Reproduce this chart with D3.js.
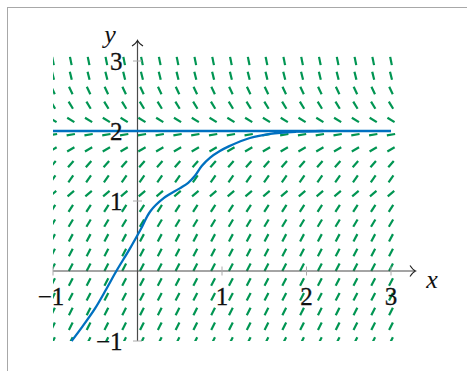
<!DOCTYPE html>
<html>
<head>
<meta charset="utf-8">
<script src="https://cdn.jsdelivr.net/npm/d3@7"></script>
<style>
  html, body { margin: 0; padding: 0; background: #fff; }
  svg { display: block; }
</style>
</head>
<body>
<svg id="chart" width="467" height="371"></svg>
<script>
// Direction field: 20 x 20 samples over [-1, 3] x [-1, 3]
const sampleCount = 20;
const fieldDomain = [-1, 3];
// slope dy/dx at each row of the field, from y = -1 (bottom) to y = 3 (top)
const rowSlopes = [2.4, 2.4, 2.4, 2.3, 2.3, 2.3, 2.3, 2.3, 2.0, 1.9,
                   1.0, 1.7, 1.4, 0.7, 0.2, -0.75, -2.0, -2.6, -5.0, -6.0];

// Equilibrium solution y = 2
const equilibriumY = 2;
const equilibriumX = [-1, 3];

// Solution curve through the field
const solX = [-0.78, -0.65, -0.5, -0.37, -0.25, -0.09, 0.04, 0.15, 0.31, 0.5, 0.6, 0.68, 0.76, 0.86, 0.97, 1.08, 1.33, 1.57, 1.88, 2.2];
const solY = [-1.0, -0.79, -0.53, -0.26, 0.0, 0.32, 0.6, 0.85, 1.04, 1.18, 1.26, 1.36, 1.5, 1.62, 1.71, 1.78, 1.9, 1.96, 1.99, 2.0];

// Tick labels
const xTicks = [-1, 1, 2, 3];
const yTicks = [-1, 1, 2, 3];

const serif = "'Liberation Serif', 'Times New Roman', 'DejaVu Serif', serif";
const svg = d3.select("#chart");

// frame
svg.append("rect")
  .attr("x", 7.5).attr("y", 7.5)
  .attr("width", 480).attr("height", 400)
  .attr("fill", "none").attr("stroke", "#a8a8a8").attr("stroke-width", 1);

const x = d3.scaleLinear().domain([-1, 3]).range([53, 391]);
const y = d3.scaleLinear().domain([-1, 3]).range([341, 61]);

// clip region for the field: the axis box
const defs = svg.append("defs");
defs.append("clipPath").attr("id", "box")
  .append("rect")
  .attr("x", x(-1)).attr("y", y(3.3))
  .attr("width", x(3.3) - x(-1)).attr("height", y(-1) - y(3.3));

const step = (fieldDomain[1] - fieldDomain[0]) / (sampleCount - 1);
const gridVals = d3.range(sampleCount).map(i => fieldDomain[0] + i * step);

const cells = [];
gridVals.forEach((gy, j) => {
  gridVals.forEach(gx => cells.push({ gx, gy, m: rowSlopes[j] }));
});

const segLen = 8.4;
const field = svg.append("g").attr("clip-path", "url(#box)");
field.selectAll("line")
  .data(cells)
  .join("line")
  .each(function (d) {
    const cx = x(d.gx), cy = y(d.gy);
    // direction (1, m) in data space mapped to pixels
    const px = x(d.gx + 1) - x(d.gx);
    const py = y(d.gy + d.m) - y(d.gy);
    const n = Math.hypot(px, py);
    const ux = px / n * segLen / 2, uy = py / n * segLen / 2;
    d3.select(this)
      .attr("x1", cx - ux).attr("y1", cy - uy)
      .attr("x2", cx + ux).attr("y2", cy + uy);
  })
  .attr("stroke", "#009552")
  .attr("stroke-width", 2.2)
  .attr("stroke-linecap", "butt");

// axes
const axisColor = "#4a4a4a";
const xEnd = 415, yEnd = 41;
const axes = svg.append("g");
axes.append("line")
  .attr("x1", x(-1)).attr("y1", y(0)).attr("x2", xEnd).attr("y2", y(0))
  .attr("stroke", axisColor).attr("stroke-width", 1.2);
axes.append("line")
  .attr("x1", x(0)).attr("y1", y(-1)).attr("x2", x(0)).attr("y2", yEnd)
  .attr("stroke", axisColor).attr("stroke-width", 1.2);

// arrow heads (curved "to" style)
axes.append("path")
  .attr("d", `M${xEnd - 5},${y(0) - 5.5} Q${xEnd - 2},${y(0) - 1} ${xEnd + 0.5},${y(0)} Q${xEnd - 2},${y(0) + 1} ${xEnd - 5},${y(0) + 5.5}`)
  .attr("fill", "none").attr("stroke", "#222").attr("stroke-width", 1.1);
axes.append("path")
  .attr("d", `M${x(0) - 5.5},${yEnd + 5} Q${x(0) - 1},${yEnd + 2} ${x(0)},${yEnd - 0.5} Q${x(0) + 1},${yEnd + 2} ${x(0) + 5.5},${yEnd + 5}`)
  .attr("fill", "none").attr("stroke", "#222").attr("stroke-width", 1.1);

// ticks
const tickColor = "#aaa";
axes.selectAll(".xt").data(xTicks).join("line")
  .attr("x1", d => x(d)).attr("x2", d => x(d))
  .attr("y1", y(0) - 4.5).attr("y2", y(0) + 4.5)
  .attr("stroke", tickColor).attr("stroke-width", 1);
axes.selectAll(".yt").data(yTicks).join("line")
  .attr("y1", d => y(d)).attr("y2", d => y(d))
  .attr("x1", x(0) - 4.5).attr("x2", x(0) + 4.5)
  .attr("stroke", tickColor).attr("stroke-width", 1);

// equilibrium line
svg.append("line")
  .attr("x1", x(equilibriumX[0])).attr("x2", x(equilibriumX[1]))
  .attr("y1", y(equilibriumY)).attr("y2", y(equilibriumY))
  .attr("stroke", "#0070c0").attr("stroke-width", 2.3);

// solution curve
const pts = solX.map((v, i) => [v, solY[i]]);
svg.append("path")
  .datum(pts)
  .attr("d", d3.line().x(d => x(d[0])).y(d => y(d[1])).curve(d3.curveCatmullRom.alpha(0.5)))
  .attr("fill", "none").attr("stroke", "#0070c0").attr("stroke-width", 2.3);

// tick labels
const fmt = d => (d < 0 ? "\u2212" + Math.abs(d) : String(d));
svg.selectAll(".xl").data(xTicks).join("text")
  .attr("x", d => x(d) - (d < 0 ? 2 : 0)).attr("y", 305)
  .attr("text-anchor", "middle")
  .attr("font-family", serif)
  .attr("font-size", 25)
  .attr("fill", "#111")
  .attr("stroke", "#111").attr("stroke-width", 0.3)
  .text(fmt);
svg.selectAll(".yl").data(yTicks).join("text")
  .attr("x", 122.5).attr("y", d => y(d) + 8.5)
  .attr("text-anchor", "end")
  .attr("font-family", serif)
  .attr("font-size", 25)
  .attr("fill", "#111")
  .attr("stroke", "#111").attr("stroke-width", 0.3)
  .text(fmt);

// axis labels
svg.append("text").attr("x", 432).attr("y", 288)
  .attr("text-anchor", "middle").attr("font-family", serif)
  .attr("font-size", 26).attr("font-style", "italic").attr("fill", "#111").text("x");
svg.append("text").attr("x", 110).attr("y", 43)
  .attr("text-anchor", "middle").attr("font-family", serif)
  .attr("font-size", 26).attr("font-style", "italic").attr("fill", "#111").text("y");
</script>
</body>
</html>
